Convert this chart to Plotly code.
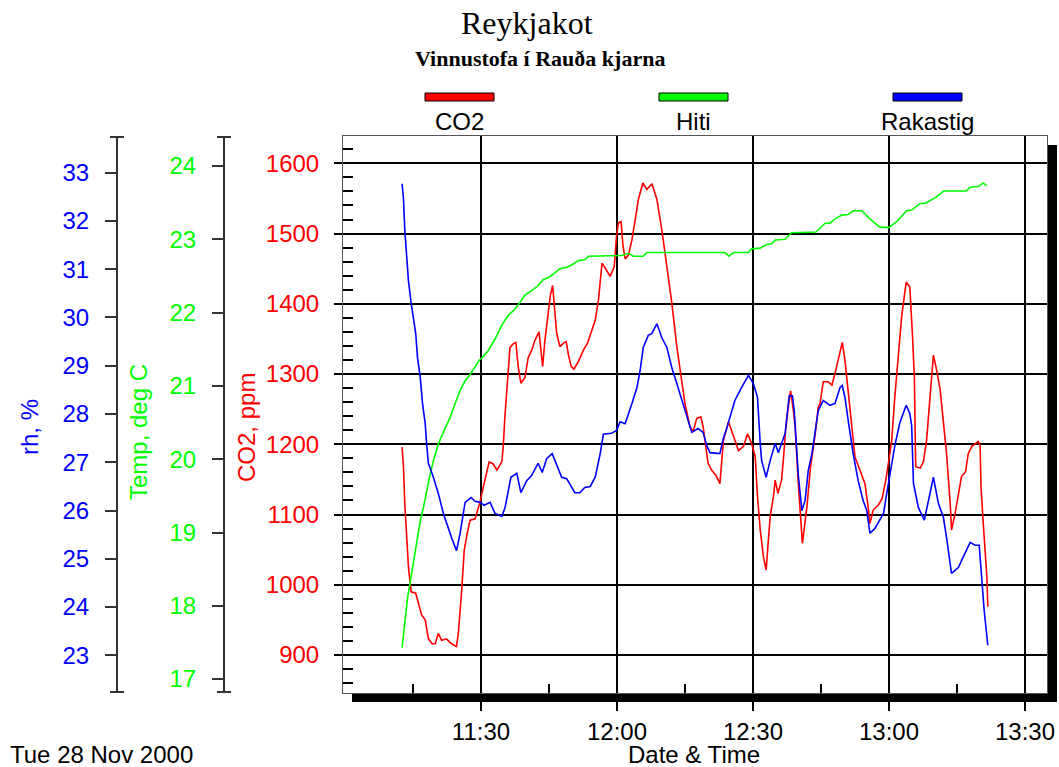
import pandas as pd
import plotly.graph_objects as go

# Logger readings, Tue 28 Nov 2000; times are minutes after 11:00
START = pd.Timestamp("2000-11-28 11:00:00")
DAY = "2000-11-28"

co2_minutes = [
    12.6, 12.9, 13.2, 13.6, 14.0, 14.3, 14.6, 15.6, 16.2, 16.9,
    17.7, 18.4, 19.2, 19.9, 20.6, 21.3, 22.4, 23.5, 24.6, 25.0,
    25.7, 26.3, 26.9, 27.6, 28.7, 29.1, 29.8, 30.5, 31.3, 31.8,
    32.7, 33.5, 34.6, 34.9, 35.3, 35.7, 36.4, 37.1, 37.7, 38.2,
    38.8, 39.7, 40.4, 41.2, 41.9, 42.8, 43.6, 44.1, 44.9, 45.3,
    45.8, 46.2, 46.7, 47.4, 48.2, 48.8, 49.3, 49.9, 50.5, 51.5,
    52.6, 53.5, 54.4, 55.2, 55.9, 56.7, 57.4, 58.5, 59.4, 59.9,
    60.3, 60.9, 61.3, 61.8, 62.5, 63.3, 64.0, 64.7, 65.7, 66.6,
    67.7, 68.8, 69.9, 71.0, 72.1, 73.2, 74.1, 75.0, 76.1, 76.8,
    77.6, 78.5, 79.0, 79.4, 80.1, 80.9, 81.8, 82.7, 83.5, 84.6,
    85.4, 86.8, 87.9, 88.8, 89.7, 90.5, 91.0, 91.6, 92.3, 92.9,
    93.4, 93.8, 94.5, 94.9, 95.5, 96.3, 96.7, 97.2, 97.8, 98.3,
    98.9, 99.3, 100.0, 100.9, 101.9, 102.7, 103.7, 104.4, 104.8, 105.5,
    106.6, 107.4, 108.1, 108.8, 109.7, 110.3, 110.7, 111.3, 112.1, 112.5,
    113.6, 114.7, 115.4, 115.8, 116.5, 117.7, 118.5, 119.3, 120.0, 120.6,
    121.3, 122.1, 122.8, 123.8, 124.6, 125.2, 125.6, 125.8, 125.9, 126.9,
    127.6, 128.3, 129.1, 129.8, 130.5, 131.3, 132.0, 132.7, 133.5, 133.8,
    134.6, 135.3, 136.0, 136.9, 137.5, 138.3, 139.7, 140.1, 140.3, 140.8,
    141.2, 141.6, 141.8,
]
co2_ppm = [
    1196, 1168, 1114, 1059, 1025, 1007, 990, 988, 974, 957,
    950, 923, 916, 916, 931, 921, 923, 916, 912, 931,
    988, 1049, 1071, 1092, 1094, 1102, 1118, 1139, 1159, 1175,
    1172, 1163, 1175, 1196, 1242, 1282, 1338, 1343, 1345, 1311,
    1287, 1295, 1323, 1334, 1348, 1360, 1311, 1348, 1391, 1412,
    1426, 1395, 1358, 1339, 1344, 1346, 1327, 1311, 1307, 1318,
    1334, 1344, 1363, 1377, 1405, 1458, 1451, 1439, 1453, 1496,
    1515, 1517, 1484, 1464, 1469, 1491, 1519, 1548, 1572, 1563,
    1571, 1549, 1505, 1453, 1401, 1339, 1296, 1258, 1225, 1218,
    1237, 1239, 1225, 1206, 1173, 1163, 1156, 1144, 1206, 1232,
    1216, 1191, 1197, 1215, 1201, 1182, 1125, 1078, 1040, 1021,
    1064, 1097, 1125, 1149, 1130, 1149, 1178, 1220, 1254, 1276,
    1249, 1225, 1144, 1059, 1111, 1168, 1213, 1253, 1258, 1289,
    1289, 1284, 1301, 1320, 1345, 1319, 1294, 1252, 1206, 1182,
    1163, 1144, 1111, 1087, 1106, 1114, 1123, 1149, 1178, 1206,
    1268, 1330, 1382, 1431, 1424, 1353, 1296, 1206, 1168, 1166,
    1175, 1206, 1277, 1327, 1306, 1277, 1232, 1187, 1116, 1078,
    1102, 1130, 1154, 1161, 1187, 1197, 1204, 1199, 1140, 1087,
    1045, 1011, 969,
]

temp_minutes = [
    12.6, 13.2, 13.8, 14.3, 15.1, 15.8, 16.6, 17.3, 18.0, 18.8,
    19.5, 20.6, 21.7, 23.2, 24.3, 25.4, 26.5, 27.4, 28.7, 29.6,
    30.3, 31.6, 33.1, 34.6, 36.0, 37.5, 38.6, 39.7, 41.2, 42.6,
    43.7, 44.9, 46.0, 47.4, 48.9, 50.0, 51.5, 52.9, 53.7, 59.9,
    61.1, 62.5, 63.6, 65.8, 66.6, 83.8, 84.7, 85.7, 89.0, 89.7,
    91.6, 93.0, 94.1, 94.9, 97.1, 98.5, 103.9, 105.9, 107.0, 108.1,
    109.6, 111.0, 112.1, 114.0, 115.8, 117.9, 119.9, 121.7, 123.9, 125.0,
    126.9, 128.0, 129.4, 130.5, 132.1, 137.0, 137.9, 139.7, 140.8, 141.6,
]
temp_c = [
    17.43, 17.79, 18.11, 18.29, 18.61, 18.89, 19.16, 19.34, 19.57, 19.80,
    19.98, 20.21, 20.37, 20.57, 20.76, 20.94, 21.07, 21.14, 21.26, 21.35,
    21.39, 21.48, 21.64, 21.83, 21.96, 22.05, 22.14, 22.24, 22.30, 22.37,
    22.45, 22.48, 22.53, 22.60, 22.62, 22.65, 22.71, 22.72, 22.77, 22.77,
    22.78, 22.81, 22.77, 22.77, 22.82, 22.82, 22.77, 22.82, 22.82, 22.87,
    22.88, 22.93, 22.94, 22.99, 23.00, 23.09, 23.10, 23.22, 23.22, 23.28,
    23.33, 23.34, 23.39, 23.39, 23.28, 23.17, 23.16, 23.24, 23.39, 23.40,
    23.49, 23.49, 23.54, 23.58, 23.66, 23.66, 23.71, 23.72, 23.77, 23.73,
]

rh_minutes = [
    12.6, 12.9, 13.2, 13.6, 14.0, 14.6, 15.1, 15.6, 16.0, 16.6,
    17.1, 17.7, 18.0, 18.4, 19.5, 20.6, 21.7, 22.4, 23.5, 24.6,
    25.4, 26.1, 26.5, 27.8, 28.7, 29.8, 30.7, 32.0, 33.1, 34.6,
    35.3, 36.6, 37.9, 38.8, 40.1, 41.2, 42.6, 43.5, 44.5, 45.7,
    47.1, 47.8, 48.9, 50.7, 51.8, 52.9, 54.1, 55.2, 56.3, 57.0,
    58.8, 59.9, 60.7, 61.8, 63.3, 64.4, 65.1, 65.8, 66.9, 67.7,
    68.8, 69.9, 71.0, 72.1, 73.2, 74.3, 75.4, 76.5, 77.9, 79.0,
    79.8, 80.5, 82.7, 83.5, 84.2, 86.0, 87.5, 89.0, 90.1, 91.0,
    91.6, 91.9, 92.9, 93.8, 94.9, 95.6, 96.3, 97.1, 97.7, 98.0,
    98.7, 99.1, 100.0, 100.8, 101.5, 102.2, 103.0, 103.7, 104.4, 105.5,
    107.0, 108.1, 109.2, 109.7, 110.3, 111.0, 112.1, 113.2, 114.3, 115.1,
    115.8, 116.9, 118.0, 118.8, 119.5, 120.2, 121.3, 122.4, 123.8, 124.6,
    125.0, 125.4, 126.5, 127.8, 128.7, 129.8, 130.9, 132.0, 132.7, 133.8,
    135.3, 136.8, 137.9, 139.0, 139.9, 140.5, 141.0, 141.8,
]
rh_pct = [
    32.77, 32.46, 31.80, 31.22, 30.76, 30.29, 29.94, 29.67, 29.17, 28.76,
    28.22, 27.80, 27.39, 26.98, 26.69, 26.35, 25.94, 25.73, 25.44, 25.17,
    25.53, 25.94, 26.17, 26.27, 26.19, 26.17, 26.11, 26.17, 25.94, 25.88,
    26.06, 26.69, 26.77, 26.37, 26.62, 26.73, 26.98, 26.79, 27.08, 27.18,
    26.83, 26.69, 26.66, 26.37, 26.37, 26.48, 26.50, 26.69, 27.18, 27.58,
    27.60, 27.66, 27.84, 27.80, 28.22, 28.55, 28.90, 29.38, 29.63, 29.67,
    29.87, 29.58, 29.38, 28.96, 28.63, 28.28, 27.93, 27.62, 27.70, 27.62,
    27.35, 27.20, 27.18, 27.51, 27.70, 28.28, 28.55, 28.80, 28.63, 28.34,
    27.39, 27.04, 26.69, 27.04, 27.39, 27.20, 27.39, 27.60, 28.13, 28.38,
    28.38, 28.07, 26.73, 26.00, 26.21, 26.83, 27.18, 27.66, 28.07, 28.28,
    28.18, 28.22, 28.55, 28.59, 28.34, 27.87, 27.18, 26.62, 26.21, 26.00,
    25.53, 25.63, 25.80, 25.94, 26.35, 26.77, 27.35, 27.82, 28.18, 28.01,
    27.76, 26.56, 26.06, 25.80, 26.21, 26.69, 26.15, 25.86, 25.44, 24.70,
    24.82, 25.11, 25.34, 25.28, 25.28, 24.55, 23.93, 23.21,
]

x_tick_labels = ["11:30", "12:00", "12:30", "13:00", "13:30"]
x_minor_labels = ["11:15", "11:45", "12:15", "12:45", "13:15"]
series_names = ["CO2", "Hiti", "Rakastig"]

RED, GREEN, BLUE = "#ff0000", "#00ff00", "#0000ff"
SANS = "Liberation Sans, Arial, sans-serif"
SERIF = "Liberation Serif, Times New Roman, serif"
FS = 24

W, H = 1059, 767
ML, MR, MT, MB = 0, 12, 136, 74
PW, PH = W - ML - MR, H - MT - MB


def px(x):
    return (x - ML) / PW


def py(y):
    return (H - MB - y) / PH


def stamp(mins):
    return [START + pd.Timedelta(minutes=m) for m in mins]


fig = go.Figure()
fig.add_trace(go.Scatter(x=stamp(co2_minutes), y=co2_ppm, name=series_names[0],
                         mode="lines", line=dict(color=RED, width=1.6), yaxis="y"))
fig.add_trace(go.Scatter(x=stamp(temp_minutes), y=temp_c, name=series_names[1],
                         mode="lines", line=dict(color=GREEN, width=1.6), yaxis="y2"))
fig.add_trace(go.Scatter(x=stamp(rh_minutes), y=rh_pct, name=series_names[2],
                         mode="lines", line=dict(color=BLUE, width=1.6), yaxis="y3"))

x_start = START + pd.Timedelta(minutes=-0.44)
x_end = START + pd.Timedelta(minutes=154.86)

fig.update_layout(
    width=W, height=H,
    margin=dict(l=ML, r=MR, t=MT, b=MB, pad=0),
    paper_bgcolor="white", plot_bgcolor="white",
    showlegend=False,
    template="none",
    xaxis=dict(
        domain=[px(343), 1], type="date", range=[x_start, x_end],
        tickmode="array",
        tickvals=[f"{DAY} {t}" for t in x_tick_labels], ticktext=x_tick_labels,
        ticks="outside", ticklen=17, tickwidth=2, tickcolor="black",
        showgrid=True, gridcolor="black", gridwidth=2,
        showline=True, linecolor="#555555", linewidth=1, mirror=True,
        zeroline=False, automargin=False,
        tickfont=dict(family=SANS, size=FS, color="black"),
        minor=dict(tickmode="array", tickvals=[f"{DAY} {t}" for t in x_minor_labels],
                   ticks="inside", ticklen=9, tickwidth=2, tickcolor="black",
                   showgrid=False),
    ),
    yaxis=dict(
        domain=[0, 1], range=[845.9, 1638.9],
        tickmode="linear", tick0=900, dtick=100,
        ticks="outside", ticklen=8, tickwidth=2, tickcolor="black",
        showgrid=True, gridcolor="black", gridwidth=2,
        showline=True, linecolor="#555555", linewidth=1, mirror=True,
        zeroline=False, automargin=False, ticklabelstandoff=10,
        tickfont=dict(family=SANS, size=FS, color=RED),
        minor=dict(tickmode="linear", tick0=900, dtick=20, ticks="inside",
                   ticklen=10, tickwidth=1.5, tickcolor="black", showgrid=False),
    ),
    yaxis2=dict(
        overlaying="y", anchor="free", position=px(224), side="left",
        range=[16.81, 24.41], tickmode="linear", tick0=17, dtick=1,
        ticks="outside", ticklen=11, tickwidth=2, tickcolor="#333333",
        showline=True, linecolor="#333333", linewidth=2,
        showgrid=False, zeroline=False, automargin=False, ticklabelstandoff=11,
        tickfont=dict(family=SANS, size=FS, color=GREEN),
    ),
    yaxis3=dict(
        overlaying="y", anchor="free", position=px(117), side="left",
        range=[22.22, 33.76], tickmode="linear", tick0=23, dtick=1,
        ticks="outside", ticklen=11, tickwidth=2, tickcolor="#333333",
        showline=True, linecolor="#333333", linewidth=2,
        showgrid=False, zeroline=False, automargin=False, ticklabelstandoff=11,
        tickfont=dict(family=SANS, size=FS, color=BLUE),
    ),
)

shapes = []
# drop shadow along the right and bottom of the plotting box
shapes.append(dict(type="rect", xref="paper", yref="paper",
                   x0=px(1048), x1=px(1057), y0=py(145), y1=py(702),
                   fillcolor="black", line=dict(width=0), layer="above"))
shapes.append(dict(type="rect", xref="paper", yref="paper",
                   x0=px(352), x1=px(1057), y0=py(694), y1=py(702),
                   fillcolor="black", line=dict(width=0), layer="above"))
# end caps on the two free axes
for xc in (117, 224):
    for yc in (137, 692):
        shapes.append(dict(type="line", xref="paper", yref="paper",
                           x0=px(xc - 7), x1=px(xc + 7), y0=py(yc), y1=py(yc),
                           line=dict(color="#333333", width=2)))
# legend swatches
legend_x = [(425, 494), (659, 728), (893, 962)]
for (x0, x1), col in zip(legend_x, [RED, GREEN, BLUE]):
    shapes.append(dict(type="rect", xref="paper", yref="paper",
                       x0=px(x0), x1=px(x1), y0=py(101), y1=py(93),
                       fillcolor=col, line=dict(color="black", width=1)))
fig.update_layout(shapes=shapes)

ann = []


def text(x, y, s, size=FS, color="black", family=SANS, xanchor="center", angle=0):
    ann.append(dict(x=px(x), y=py(y), xref="paper", yref="paper", text=s,
                    showarrow=False, xanchor=xanchor, yanchor="middle",
                    textangle=angle, font=dict(family=family, size=size, color=color)))


text(527, 23, "Reykjakot", size=32, family=SERIF)
text(540, 58, "<b>Vinnustofa í Rauða kjarna</b>", size=22, family=SERIF)
for (x0, x1), name in zip(legend_x, series_names):
    text((x0 + x1) / 2, 121, name)
text(29, 427, "rh, %", color=BLUE, angle=-90)
text(138, 432, "Temp, deg C", color=GREEN, angle=-90)
text(246, 428, "CO2, ppm", color=RED, angle=-90)
text(8, 754, "Tue 28 Nov 2000", xanchor="left")
text(694, 754, "Date & Time")
fig.update_layout(annotations=ann)

fig.write_html("out.html")
